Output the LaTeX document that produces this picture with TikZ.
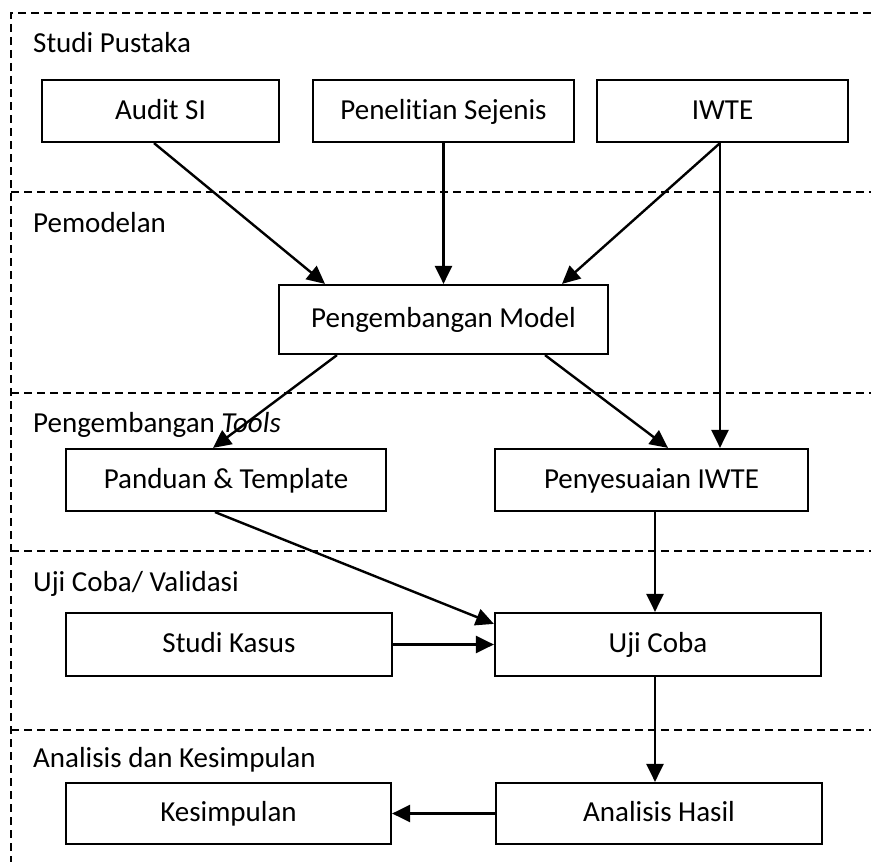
\documentclass[tikz,border=0pt]{standalone}
\usepackage{fontspec}
\setmainfont[Ligatures=NoCommon]{Carlito}
\usetikzlibrary{arrows.meta}
\begin{document}
\begin{tikzpicture}[x=1pt,y=-1pt,
  stagebox/.style={draw, line width=2.2pt, rectangle, inner sep=0pt,
    text height=22pt, text depth=6pt,
    font=\fontsize{29}{34}\selectfont},
  flow/.style={line width=2.4pt, -{Triangle[length=18pt,width=17pt]}},
  lane/.style={line width=2pt, dash pattern=on 8pt off 5pt},
  lanelabel/.style={anchor=base west, inner sep=0pt, font=\fontsize{29}{34}\selectfont}]
\useasboundingbox (0,0) rectangle (871,862);

% swimlane frame
\draw[lane] (871,13) -- (11,13) -- (11,862);
\foreach \yy in {192,393,551,730}
  \draw[lane] (11,\yy) -- (871,\yy);

% lane titles
\node[lanelabel] (l1) at (33,52) {Studi Pustaka};
\node[lanelabel] (l2) at (33,232) {Pemodelan};
\node[lanelabel] (l3) at (33,432) {Pengembangan \textit{Tools}};
\node[lanelabel] (l4) at (33,591) {Uji Coba/ Validasi};
\node[lanelabel] (l5) at (33,767) {Analisis dan Kesimpulan};

% steps
\node[stagebox, minimum width=237pt, minimum height=62pt] (audit) at (160.5,111) {Audit SI};
\node[stagebox, minimum width=261pt, minimum height=62pt] (sejenis) at (443.5,111) {Penelitian Sejenis};
\node[stagebox, minimum width=251pt, minimum height=62pt] (iwte) at (722.5,111) {IWTE};
\node[stagebox, minimum width=329pt, minimum height=69pt] (model) at (443.5,319.5) {Pengembangan Model};
\node[stagebox, minimum width=320pt, minimum height=62pt] (panduan) at (226,480) {Panduan \& Template};
\node[stagebox, minimum width=313pt, minimum height=62pt] (sesuai) at (651.5,480) {Penyesuaian IWTE};
\node[stagebox, minimum width=326pt, minimum height=63pt] (kasus) at (229,644.5) {Studi Kasus};
\node[stagebox, minimum width=326pt, minimum height=63pt] (uji) at (658,644.5) {Uji Coba};
\node[stagebox, minimum width=325pt, minimum height=61pt] (simpul) at (228.5,813.5) {Kesimpulan};
\node[stagebox, minimum width=326pt, minimum height=61pt] (hasil) at (659,813.5) {Analisis Hasil};

% connectors
\draw[flow] ([xshift=-6.5pt]audit.south) -- ([xshift=-118.5pt]model.north);
\draw[flow] (sejenis.south) -- (model.north);
\draw[flow] ([xshift=-2.5pt]iwte.south) -- ([xshift=118.5pt]model.north);
\draw[flow] ([xshift=-2.5pt]iwte.south) -- ([xshift=68.5pt]sesuai.north);
\draw[flow] ([xshift=-106.5pt]model.south) -- ([xshift=-13pt]panduan.north);
\draw[flow] ([xshift=101.5pt]model.south) -- ([xshift=16.5pt]sesuai.north);
\draw[flow] ([xshift=-11pt]panduan.south) -- ([yshift=-12pt]uji.north west);
\draw[flow] ([xshift=3.5pt]sesuai.south) -- ([xshift=-3pt]uji.north);
\draw[flow] (kasus.east) -- (uji.west);
\draw[flow] ([xshift=-3pt]uji.south) -- ([xshift=-4pt]hasil.north);
\draw[flow] (hasil.west) -- (simpul.east);
\end{tikzpicture}
\end{document}
